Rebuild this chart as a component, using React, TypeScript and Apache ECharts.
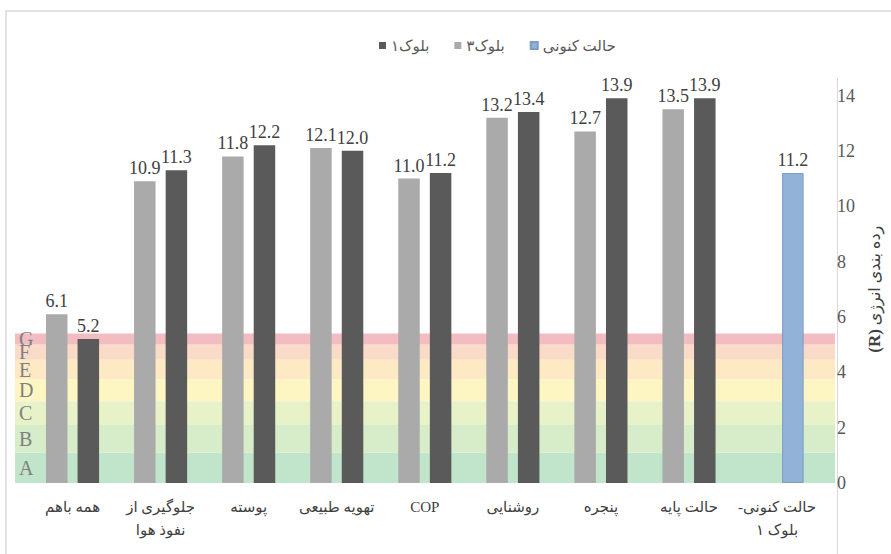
import React, { useEffect, useRef } from "react";
import * as echarts from "echarts";

const categories = [
  "همه باهم",
  "جلوگیری از\nنفوذ هوا",
  "پوسته",
  "تهویه طبیعی",
  "COP",
  "روشنایی",
  "پنجره",
  "حالت پایه",
  "-حالت کنونی\nبلوک ۱",
];
const block3 = [6.1, 10.9, 11.8, 12.1, 11.0, 13.2, 12.7, 13.5, null];
const block1 = [5.2, 11.3, 12.2, 12.0, 11.2, 13.4, 13.9, 13.9, null];
const current = [null, null, null, null, null, null, null, null, 11.2];

const bandNames = ["A", "B", "C", "D", "E", "F", "G"];
const bandEdges = [0, 1.1, 2.1, 2.95, 3.75, 4.45, 5.0, 5.4];
const bandColors = ["#c1e5cb", "#d7ecc8", "#e8f2c8", "#fdf6c2", "#fde9c4", "#fadbc8", "#f3bcc1"];

const yMin = 0;
const yMax = 14;
const yInterval = 2;

const serif = "Liberation Serif, DejaVu Sans, serif";

export default function App() {
  const ref = useRef<HTMLDivElement>(null);
  useEffect(() => {
    if (!ref.current) return;
    const chart = echarts.init(ref.current, null, { renderer: "svg" });
    const fmt = (p: any) => (p.value == null ? "" : Number(p.value).toFixed(1));
    const labelCfg = {
      show: true,
      position: "top" as const,
      distance: 4,
      formatter: fmt,
      fontSize: 18,
      color: "#404040",
      fontFamily: serif,
    };
    const option: any = {
      animation: false,
      backgroundColor: "#ffffff",
      legend: {
        data: ["بلوک۱", "بلوک۳", "حالت کنونی"],
        left: 374,
        top: 33,
        itemWidth: 7,
        itemHeight: 7,
        itemGap: 25,
        icon: "rect",
        textStyle: { fontSize: 15, color: "#595959", fontFamily: serif },
      },
      grid: [
        { left: 28.5, right: 61, top: 95.5, bottom: 71, containLabel: false },
        { left: 15, right: 56, top: 95.5, bottom: 71, containLabel: false },
      ],
      xAxis: [
        {
          type: "category",
          gridIndex: 0,
          data: categories,
          boundaryGap: true,
          axisLine: { show: false },
          axisTick: { show: false },
          axisLabel: {
            interval: 0,
            margin: 12,
            fontSize: 15,
            lineHeight: 23,
            color: "#404040",
            fontFamily: serif,
          },
        },
        { type: "value", gridIndex: 1, min: 0, max: 1, show: false },
      ],
      yAxis: [
        {
          type: "value",
          gridIndex: 0,
          position: "right",
          offset: 7,
          min: yMin,
          max: yMax,
          interval: yInterval,
          splitLine: { show: false },
          axisLine: { show: false },
          axisTick: { show: false },
          axisLabel: { margin: 9, fontSize: 18, color: "#595959", fontFamily: serif },
          name: "{b|(R)} رده بندی انرژی",
          nameLocation: "middle",
          nameRotate: 90,
          nameGap: 24,
          nameTextStyle: {
            fontSize: 16,
            color: "#404040",
            fontFamily: serif,
            rich: {
              b: { fontSize: 17, fontWeight: "bold", color: "#404040", fontFamily: serif },
            },
          },
        },
        { type: "value", gridIndex: 1, min: yMin, max: yMax, show: false },
      ],
      series: [
        {
          type: "line",
          xAxisIndex: 1,
          yAxisIndex: 1,
          data: [[0.5, 0]],
          showSymbol: false,
          symbol: "none",
          lineStyle: { opacity: 0 },
          silent: true,
          z: 0,
          markArea: {
            silent: true,
            z: 0,
            label: {
              show: true,
              position: "insideLeft",
              distance: 4,
              fontSize: 20,
              color: "#7f7f7f",
              fontFamily: serif,
            },
            data: bandNames.map((n, i) => [
              { name: n, yAxis: bandEdges[i], itemStyle: { color: bandColors[i] } },
              { yAxis: bandEdges[i + 1] },
            ]),
          },
        },
        {
          name: "بلوک۳",
          type: "bar",
          xAxisIndex: 0,
          yAxisIndex: 0,
          data: block3,
          barWidth: 21.5,
          barGap: "47%",
          itemStyle: { color: "#aaaaaa" },
          label: labelCfg,
          z: 3,
        },
        {
          name: "بلوک۱",
          type: "bar",
          xAxisIndex: 0,
          yAxisIndex: 0,
          stack: "s",
          data: block1,
          barWidth: 21.5,
          barGap: "47%",
          itemStyle: { color: "#5a5a5a" },
          label: labelCfg,
          z: 3,
        },
        {
          name: "حالت کنونی",
          type: "bar",
          xAxisIndex: 0,
          yAxisIndex: 0,
          stack: "s",
          data: current,
          barWidth: 21.5,
          barGap: "47%",
          itemStyle: { color: "#93b2d8", borderColor: "#7d9cc6", borderWidth: 1 },
          label: labelCfg,
          z: 3,
        },
      ],
      graphic: [
        {
          type: "rect",
          shape: { x: 6, y: 11, width: 920, height: 600 },
          style: { fill: "none", stroke: "#d9d9d9", lineWidth: 1.5 },
          silent: true,
        },
        {
          type: "line",
          shape: { x1: 837.5, y1: 78, x2: 837.5, y2: 560 },
          style: { stroke: "#d9d9d9", lineWidth: 1 },
          silent: true,
        },
      ],
    };
    chart.setOption(option);
    return () => chart.dispose();
  }, []);
  return (
    <div
      ref={ref}
      style={{ position: "fixed", left: 0, top: 0, width: 891, height: 554 }}
    />
  );
}
